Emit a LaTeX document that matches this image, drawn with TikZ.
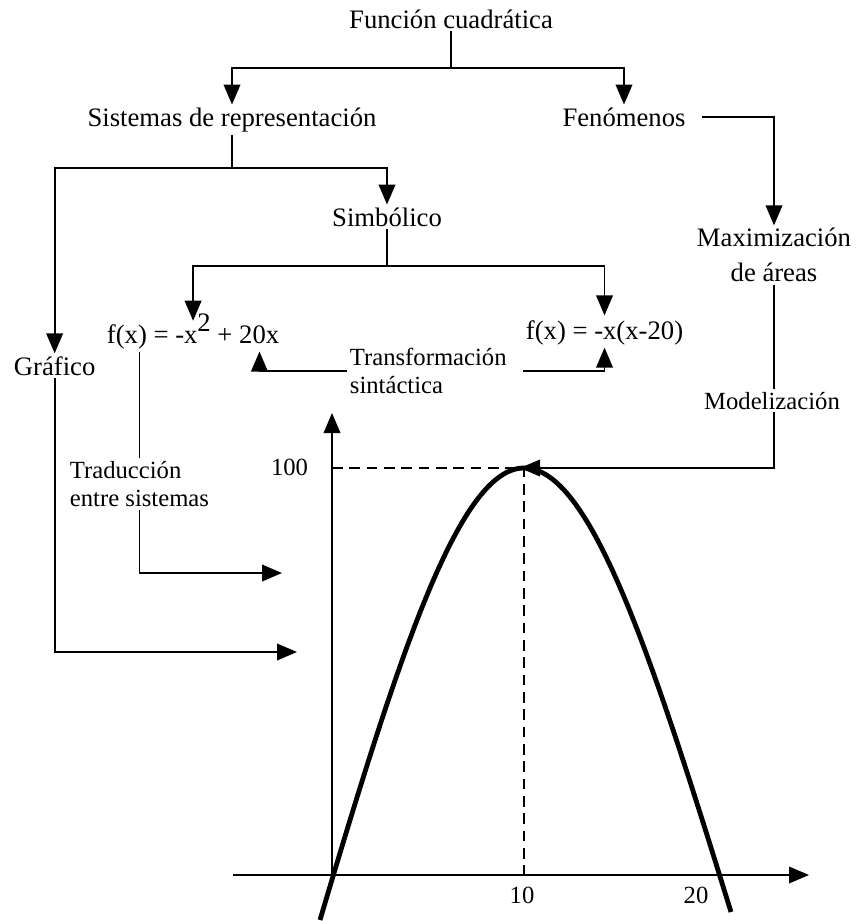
\documentclass[tikz,border=0pt]{standalone}
\usepackage{fontspec}
\setmainfont{Liberation Serif}
\usetikzlibrary{arrows.meta}

\begin{document}
\begin{tikzpicture}[x=0.75pt,y=0.75pt,yscale=-1,xscale=1,
	lbl/.style={inner sep=2pt, font=\fontsize{20}{26}\selectfont},
	sublbl/.style={inner sep=2pt, font=\fontsize{18.5}{21}\selectfont},
	conn/.style={line width=1.3pt},
	arr/.style={line width=1.3pt, -{Triangle[length=15pt,width=12.5pt]}},
	axis/.style={line width=1.1pt, -{Triangle[length=15pt,width=12.5pt]}},
	guide/.style={line width=1pt, dash pattern={on 8pt off 5pt}}]
	\useasboundingbox (0,0) rectangle (856,921);

	% Text Node
	\node [lbl, anchor=base] (fun) at (451,28) {Función cuadrática};
	% Text Node
	\node [lbl, anchor=base] (sis) at (232,126) {Sistemas de representación};
	% Text Node
	\node [lbl, anchor=base] (fen) at (624,126) {Fenómenos};
	% Text Node
	\node [lbl, anchor=base] (sim) at (387,226) {Simbólico};
	% Text Node
	\node [lbl, align=center] (max) at (774,255) {Maximización\\de áreas};
	% Text Node
	\node [lbl, anchor=base west, text height=0.95em] (f1) at (104,343) {f(x) = -x\raisebox{9pt}{2} + 20x};
	% Text Node
	\node [lbl, anchor=base west, text height=0.95em] (f2) at (523,339) {f(x) = -x(x-20)};
	% Text Node
	\node [lbl, anchor=base west] (gra) at (11,375) {Gráfico};
	% Text Node
	\node [sublbl, align=left, anchor=west] (trans) at (347,371) {Transformación\\sintáctica};
	% Text Node
	\node [sublbl, anchor=base] (mod) at (772,409) {Modelización};
	% Text Node
	\node [sublbl, align=left, anchor=west] (trad) at (67,484) {Traducción\\entre sistemas};
	% Text Node
	\node [sublbl, anchor=base east] (v100) at (311,475) {100};
	% Text Node
	\node [sublbl, anchor=base] (v10) at (522,903) {10};
	% Text Node
	\node [sublbl, anchor=base] (v20) at (696,903) {20};

	\coordinate (jfun) at (451,68);
	\coordinate (jsis) at (234,168);
	\coordinate (jsim) at (389,266);
	\coordinate (peak) at (524,468);
	\coordinate (gin) at (297,652);
	\coordinate (tin) at (282,573);
	\coordinate (O) at (332,875);
	\coordinate (xs) at (233,875);
	\coordinate (xe) at (809,875);
	\coordinate (ye) at (332,413);

	%Straight Lines
	\draw [conn] (fun) -- (jfun);
	\draw [arr] (jfun) -| (sis);
	\draw [arr] (jfun) -| (fen);
	\draw [arr, shorten <=10pt] (fen) -| (max);
	\draw [conn] (max) -- (max |- mod.north);
	%Straight Lines
	\draw [conn] (sis) -- (sis |- jsis);
	\draw [arr] (jsis) -| (sim);
	\draw [arr] (jsis) -| (gra);
	\draw [conn] (sim) -- (sim |- jsim);
	\draw [arr, shorten >=5pt] (jsim) -| (f1);
	\draw [arr, shorten >=6pt] (jsim) -| (f2);
	%Straight Lines
	\draw [arr] (trans) -| ([xshift=-17pt]f1.south east);
	\draw [arr, shorten <=10pt] (trans) -| (f2);
	\draw [conn] (trad |- f1.south) -- (trad);
	\draw [arr] (trad) |- (tin);
	\draw [arr] (gra) |- (gin);

	% Axes
	\draw [axis] (xs) -- (xe);
	\draw [axis] (O) -- (ye);
	\draw [guide] (O |- peak) -- (peak) -- (peak |- O);
	%Curve
	\draw [line width=3.6pt] (320,920) .. controls (400,650) and (460,468) .. (524,468) .. controls (590,468) and (650,650) .. (731,912);
	\draw [arr, shorten >=-3pt] (max |- mod.south) |- (peak);
\end{tikzpicture}
\end{document}
